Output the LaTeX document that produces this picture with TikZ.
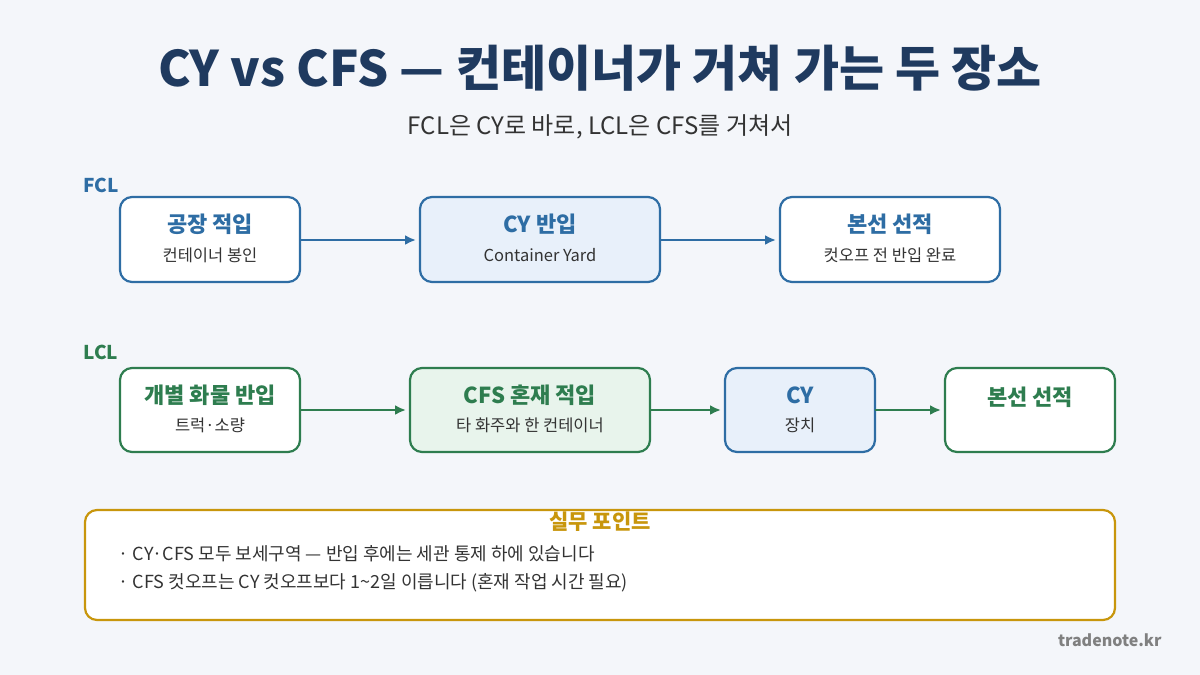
\documentclass[tikz,border=0pt]{standalone}
\usepackage{fontspec}
\setmainfont{Noto Sans CJK KR}
\usetikzlibrary{arrows.meta}
\definecolor{bgc}{HTML}{F4F6FA}
\definecolor{navy}{HTML}{1F3A5F}
\definecolor{fblue}{HTML}{2E6DA4}
\definecolor{lblue}{HTML}{E8F0FA}
\definecolor{fgreen}{HTML}{2E7D4F}
\definecolor{lgreen}{HTML}{E8F4EC}
\definecolor{gold}{HTML}{C8960C}
\definecolor{txt}{HTML}{333333}
\begin{document}
\begin{tikzpicture}[x=1pt,y=-1pt,
  box/.style={rounded corners=12, line width=2.2pt, fill=white},
  ttl/.style={font=\fontsize{22}{26}\selectfont\bfseries},
  sub/.style={font=\fontsize{16.5}{19}\selectfont, text=txt},
  n/.style={-{Latex[length=11pt,width=10pt]}, line width=2.8pt, shorten >=4pt}]
  % background
  \fill[bgc] (0,0) rectangle (1200,675);
  \useasboundingbox (0,0) rectangle (1200,675);
  % title
  \node[text=navy, font=\fontsize{49}{56}\selectfont\bfseries] (title) at (600,68) {CY vs CFS — 컨테이너가 거쳐 가는 두 장소};
  \node[text=txt, font=\fontsize{24}{28}\selectfont] (subt) at (600,127) {FCL은 CY로 바로, LCL은 CFS를 거쳐서};
  % FCL row
  \node[text=fblue, font=\fontsize{19}{22}\selectfont\bfseries, anchor=west] (fcl) at (80,185) {FCL};
  \draw[box, draw=fblue] (120,197) rectangle (300,282);
  \draw[box, draw=fblue, fill=lblue] (420,197) rectangle (660,282);
  \draw[box, draw=fblue] (780,197) rectangle (1000,282);
  \node[ttl, text=fblue] (f1) at (210,224) {공장 적입};
  \node[sub] (f1s) at (210,255) {컨테이너 봉인};
  \node[ttl, text=fblue] (f2) at (540,224) {CY 반입};
  \node[sub] (f2s) at (540,255) {Container Yard};
  \node[ttl, text=fblue] (f3) at (890,224) {본선 선적};
  \node[sub] (f3s) at (890,255) {컷오프 전 반입 완료};
  \coordinate (fa1) at (300,240); \coordinate (fb1) at (420,240);
  \coordinate (fa2) at (660,240); \coordinate (fb2) at (780,240);
  \draw[n, fblue] (fa1) -- (fb1);
  \draw[n, fblue] (fa2) -- (fb2);
  % LCL row
  \node[text=fgreen, font=\fontsize{19}{22}\selectfont\bfseries, anchor=west] (lcl) at (80,352) {LCL};
  \draw[box, draw=fgreen] (120,368) rectangle (300,452);
  \draw[box, draw=fgreen, fill=lgreen] (410,368) rectangle (650,452);
  \draw[box, draw=fblue, fill=lblue] (725,368) rectangle (875,452);
  \draw[box, draw=fgreen] (945,368) rectangle (1115,452);
  \node[ttl, text=fgreen] (l1) at (210,395) {개별 화물 반입};
  \node[sub] (l1s) at (210,425) {트럭·소량};
  \node[ttl, text=fgreen] (l2) at (530,395) {CFS 혼재 적입};
  \node[sub] (l2s) at (530,425) {타 화주와 한 컨테이너};
  \node[ttl, text=fblue] (l3) at (800,395) {CY};
  \node[sub] (l3s) at (800,425) {장치};
  \node[ttl, text=fgreen] (l4) at (1030,397) {본선 선적};
  \coordinate (la1) at (300,410); \coordinate (lb1) at (410,410);
  \coordinate (la2) at (650,410); \coordinate (lb2) at (725,410);
  \coordinate (la3) at (875,410); \coordinate (lb3) at (945,410);
  \draw[n, fgreen] (la1) -- (lb1);
  \draw[n, fgreen] (la2) -- (lb2);
  \draw[n, fgreen] (la3) -- (lb3);
  % practice points
  \draw[box, draw=gold] (85,510) rectangle (1115,620);
  \node[text=gold, font=\fontsize{21}{24}\selectfont\bfseries] (pt) at (600,522) {실무 포인트};
  \node[anchor=west, text=txt, font=\fontsize{18}{21}\selectfont] (b1) at (115,554) {· CY·CFS 모두 보세구역 — 반입 후에는 세관 통제 하에 있습니다};
  \node[anchor=west, text=txt, font=\fontsize{18}{21}\selectfont] (b2) at (115,583) {· CFS 컷오프는 CY 컷오프보다 1\textasciitilde 2일 이릅니다 (혼재 작업 시간 필요)};
  \node[text=gray, font=\fontsize{16}{19}\selectfont\bfseries, anchor=east] (brand) at (1165,640) {tradenote.kr};
\end{tikzpicture}
\end{document}
